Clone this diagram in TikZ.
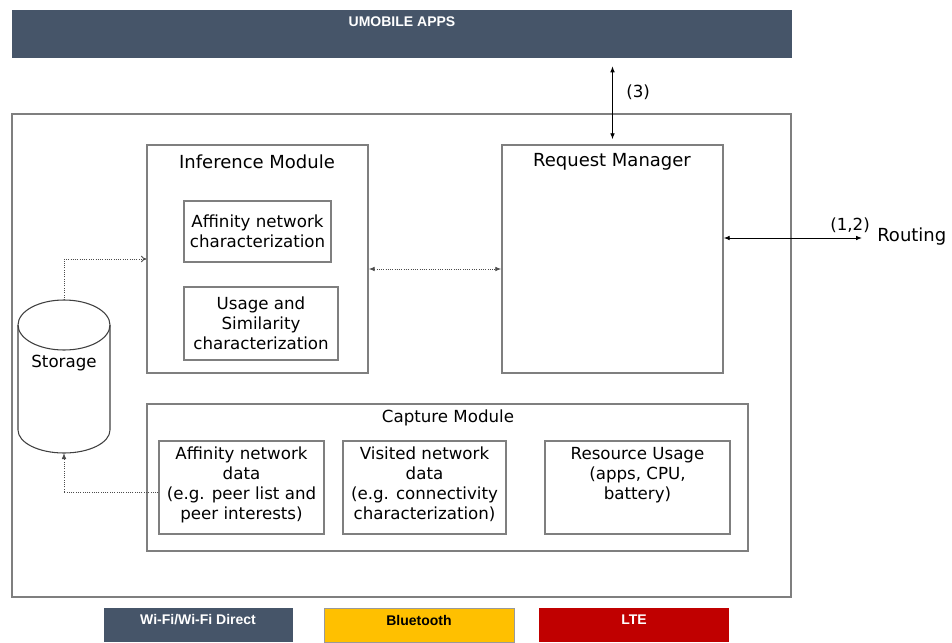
\documentclass[tikz,border=0pt]{standalone}
\usepackage{fontspec}
\setmainfont{DejaVu Sans}
\newfontfamily\barfont{Liberation Sans}
\usetikzlibrary{arrows.meta,fit}
\definecolor{slate}{HTML}{465569}
\definecolor{amber}{HTML}{FFC000}
\definecolor{crimson}{HTML}{C00000}
\definecolor{boxgray}{HTML}{7F7F7F}
\tikzset{
  box/.style={draw=boxgray, line width=1.1pt, inner sep=0pt},
  bar/.style={inner sep=0pt, draw=none},
  lbl/.style={font=\fontsize{12.5}{15}\selectfont, align=center, inner sep=0pt},
  ttl/.style={font=\fontsize{13.5}{16}\selectfont, align=center, inner sep=0pt},
  barlbl/.style={font=\barfont\bfseries\fontsize{10.5}{12}\selectfont, inner sep=0pt},
  dotcon/.style={draw=black!70, line width=0.7pt, densely dotted},
  solcon/.style={draw=black, line width=0.7pt},
  mytip/.tip={Latex[length=4.5pt,width=3.5pt]},
  myopen/.tip={To[length=4pt,width=5pt]},
}
\begin{document}
\begin{tikzpicture}[x=0.75pt,y=-0.75pt]
\useasboundingbox (0,0) rectangle (952,642);
% top bar
\node[bar, fill=slate, fit={(12,10) (792,58)}] (apps) {};
\node[barlbl, text=white] (appst) at (402,22) {UMOBILE APPS};
% outer box
\node[box, fit={(12,114) (791,597)}] (outer) {};
% inference module
\node[box, fit={(147,145) (368,373)}] (inf) {};
\node[ttl] (inft) at (257,162) {Inference Module};
\node[box, fit={(184,201) (331,262)}] (affc) {};
\node[lbl] (affct) at (affc.center) {Affinity network\\characterization};
\node[box, fit={(184,287) (338,360)}] (usage) {};
\node[lbl] (usaget) at (usage.center) {Usage and\\Similarity\\characterization};
% request manager
\node[box, fit={(502,145) (723,373)}] (req) {};
\node[ttl] (reqt) at (612,162) {Request Manager};
% capture module
\node[box, fit={(147,404) (748,551)}] (cap) {};
\node[lbl] (capt) at (448,418) {Capture Module};
\node[box, fit={(159,441) (324,534)}] (affd) {};
\node[lbl, anchor=north] (affdt) at (241.5,447) {Affinity network\\data\\(e.g. peer list and\\peer interests)};
\node[box, fit={(343,441) (506,534)}] (vis) {};
\node[lbl, anchor=north] (vist) at (424.5,447) {Visited network\\data\\(e.g. connectivity\\characterization)};
\node[box, fit={(545,441) (730,534)}] (res) {};
\node[lbl, anchor=north] (rest) at (637.5,447) {Resource Usage\\(apps, CPU,\\battery)};
% storage cylinder
\draw[draw=black!75, line width=0.8pt] (18,325) -- (18,430) arc[start angle=180, end angle=0, x radius=46, y radius=23] -- (110,325);
\draw[draw=black!75, line width=0.8pt] (64,325) ellipse [x radius=46, y radius=25];
\node[lbl] (stor) at (64,363) {Storage};
\coordinate (storTop) at (64,300);
\coordinate (storBot) at (64,453);
% connectors
\draw[dotcon, -{myopen}] (storTop) |- (inf.west);
\draw[dotcon, -{mytip}] ([yshift=-4pt]affd.west) -| (storBot);
\draw[dotcon, {mytip}-{mytip}] ([yshift=-7.5pt]inf.east) -- ([yshift=-7.5pt]req.east -| req.west);
\draw[solcon, {mytip}-{mytip}] ([yshift=-6pt]req.north |- apps.south) -- ([yshift=3.75pt]req.north);
\node[lbl, anchor=west] (three) at (626,92) {(3)};
\coordinate (rtEnd) at (862,238);
\draw[solcon, {mytip}-{mytip}] (req.east |- rtEnd) -- (rtEnd);
\node[lbl] (onetwo) at (850,225) {(1,2)};
\node[lbl, anchor=west, font=\fontsize{13.5}{16}\selectfont] (rout) at (877,237) {Routing};
% bottom bars
\node[bar, fill=slate, fit={(104,608) (293,642)}] (wifi) {};
\node[barlbl, text=white] (wifit) at (198,620) {Wi-Fi/Wi-Fi Direct};
\node[bar, fill=amber, draw=black!40, line width=0.4pt, fit={(324,608) (514,642)}] (bt) {};
\node[barlbl, text=black] (btt) at (419,620) {Bluetooth};
\node[bar, fill=crimson, fit={(539,608) (729,642)}] (lte) {};
\node[barlbl, text=white] (ltet) at (634,620) {LTE};
\end{tikzpicture}
\end{document}
